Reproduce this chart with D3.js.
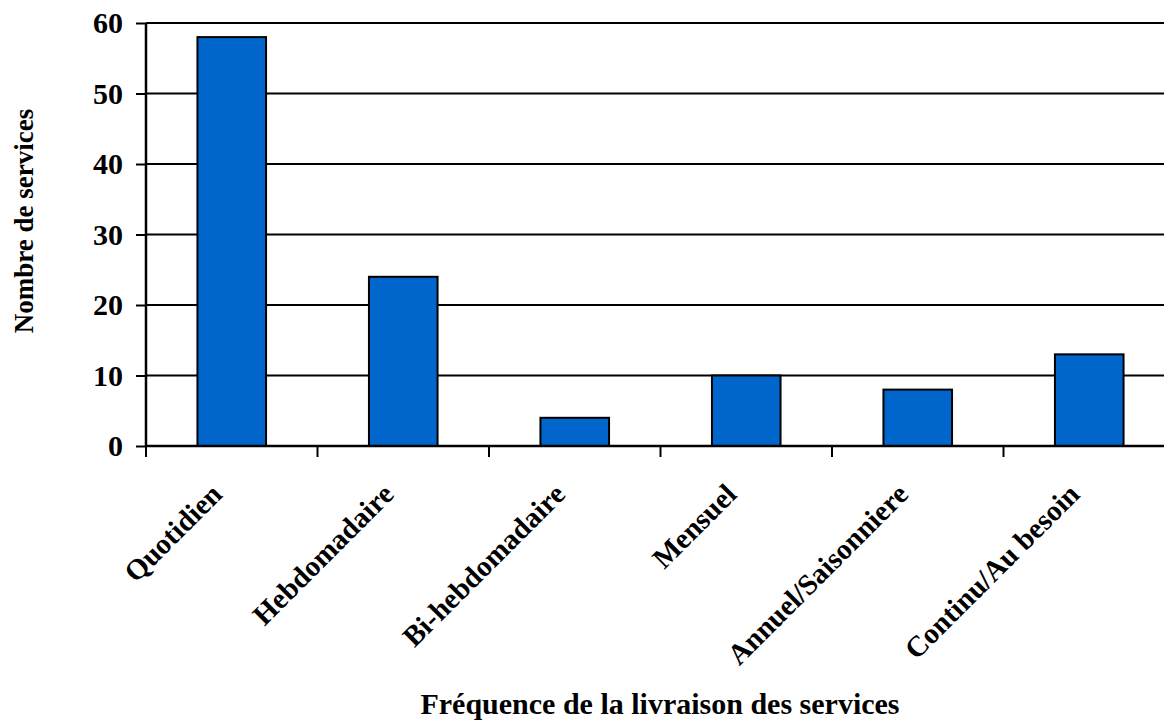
<!DOCTYPE html>
<html>
<head>
<meta charset="utf-8">
<script src="https://cdn.jsdelivr.net/npm/d3@7"></script>
<style>
  body { margin: 0; background: #fff; }
  svg text { font-family: "Liberation Serif", "Times New Roman", serif; font-weight: bold; fill: #000; }
</style>
</head>
<body>
<div id="chart"></div>
<script>
// data
var categories = ["Quotidien", "Hebdomadaire", "Bi-hebdomadaire", "Mensuel", "Annuel/Saisonniere", "Continu/Au besoin"];
var values = [58, 24, 4, 10, 8, 13];
var yTicks = [0, 10, 20, 30, 40, 50, 60];

var width = 1164, height = 721;
var mLeft = 146, mRight = 1175, mTop = 23, mBottom = 446;

var svg = d3.select("#chart").append("svg")
    .attr("width", width)
    .attr("height", height);

var x = d3.scaleBand()
    .domain(categories)
    .range([mLeft, mRight])
    .paddingInner(0.6)
    .paddingOuter(0.3);

var y = d3.scaleLinear()
    .domain([0, 60])
    .range([mBottom, mTop]);

// gridlines
svg.append("g")
    .selectAll("line")
    .data(yTicks.filter(d => d > 0))
    .enter()
    .append("line")
    .attr("x1", mLeft)
    .attr("x2", mRight)
    .attr("y1", d => y(d))
    .attr("y2", d => y(d))
    .attr("stroke", "#000")
    .attr("stroke-width", 2);

// bars
svg.append("g")
    .selectAll("rect")
    .data(values)
    .enter()
    .append("rect")
    .attr("x", (d, i) => x(categories[i]))
    .attr("y", d => y(d))
    .attr("width", x.bandwidth())
    .attr("height", d => mBottom - y(d))
    .attr("fill", "#0066cc")
    .attr("stroke", "#000")
    .attr("stroke-width", 2);

// y axis
var yAxis = svg.append("g")
    .attr("transform", "translate(" + mLeft + ",0)")
    .call(d3.axisLeft(y).tickValues(yTicks).tickSize(10).tickPadding(13).tickFormat(d3.format("d")));
yAxis.select(".domain").attr("stroke", "#000").attr("stroke-width", 2.5).attr("d", "M0," + mTop + "V" + mBottom);
yAxis.selectAll(".tick line").attr("stroke-width", 2);
yAxis.selectAll(".tick text").style("font-size", "30px").attr("font-family", null);

// x axis
var step = (mRight - mLeft) / categories.length;
var xTickPos = d3.range(categories.length + 1).map(i => mLeft + i * step);
var xAxis = svg.append("g");
xAxis.append("line")
    .attr("x1", mLeft).attr("x2", mRight)
    .attr("y1", mBottom).attr("y2", mBottom)
    .attr("stroke", "#000").attr("stroke-width", 2.5);
xAxis.selectAll(".xt")
    .data(xTickPos)
    .enter()
    .append("line")
    .attr("class", "xt")
    .attr("x1", d => d).attr("x2", d => d)
    .attr("y1", mBottom).attr("y2", mBottom + 11)
    .attr("stroke", "#000").attr("stroke-width", 2);

xAxis.selectAll(".xl")
    .data(categories)
    .enter()
    .append("text")
    .attr("class", "xl")
    .attr("text-anchor", "end")
    .attr("transform", d => "translate(" + (x(d) + x.bandwidth() / 2 - 8) + "," + (mBottom + 50) + ") rotate(-45)")
    .style("font-size", "29px")
    .text(d => d);

// axis titles
svg.append("text")
    .attr("text-anchor", "middle")
    .attr("transform", "translate(33,221) rotate(-90)")
    .style("font-size", "27px")
    .text("Nombre de services");

svg.append("text")
    .attr("text-anchor", "middle")
    .attr("x", 660)
    .attr("y", 714)
    .style("font-size", "30px")
    .text("Fréquence de la livraison des services");
</script>
</body>
</html>
